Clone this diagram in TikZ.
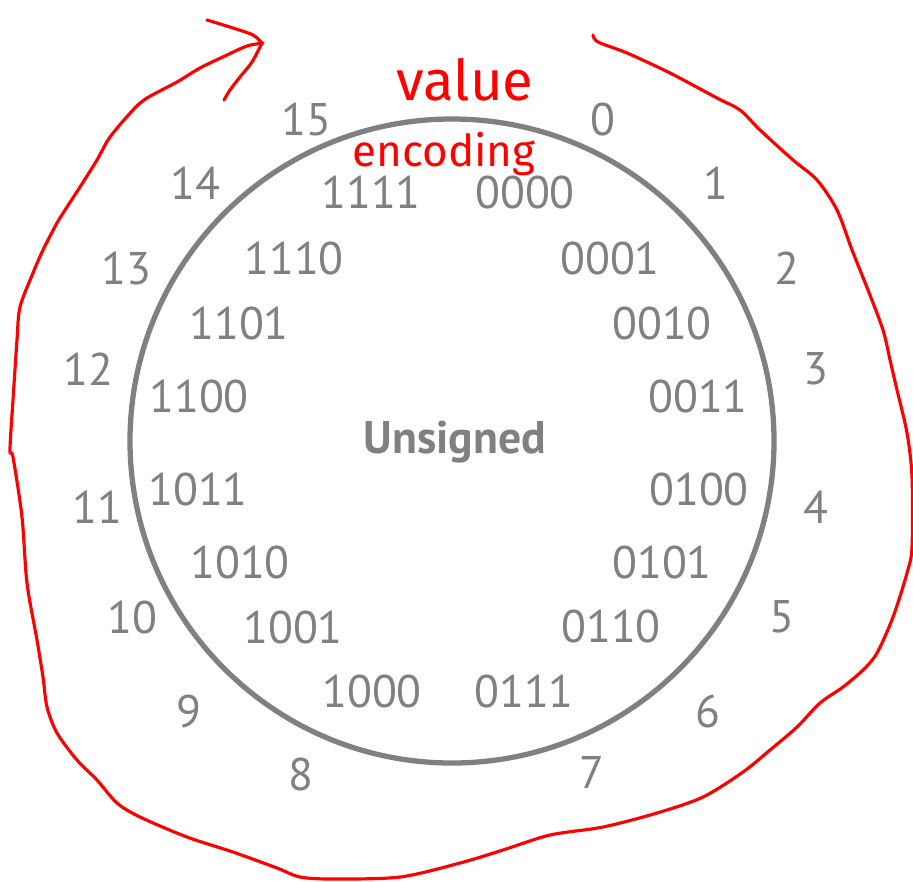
\documentclass[tikz,border=0pt]{standalone}
\usepackage{fontspec}
\setmainfont{PT Sans}
\newfontfamily\handfont{Fira Sans}
\usetikzlibrary{positioning}

\definecolor{ringgray}{RGB}{128,128,128}

\begin{document}
\begin{tikzpicture}[x=0.01cm, y=-0.01cm, line join=round, line cap=round,
    num/.style={inner sep=0pt, text=ringgray, font=\fontsize{13}{15}\selectfont},
    code/.style={num},
    hand/.style={inner sep=0pt, text=red, font=\handfont\fontsize{14}{16}\selectfont}]
    \useasboundingbox (0,0) rectangle (913,881);

    % ring
    \coordinate (O) at (452,441);
    \draw[ringgray, line width=1.5pt] (O) circle (322);
    \node[inner sep=0pt, text=ringgray, font=\fontsize{13}{15}\selectfont\bfseries,
          anchor=base] (title) at (455,453) {Unsigned};

    % values outside the ring
    \foreach \v/\x/\y in {0/603/119, 1/716/183, 2/787/268, 3/816/369,
                          4/816/507, 5/782/617, 6/708/711, 7/592/772,
                          8/301/774, 9/189/711, 10/132/617, 11/97/507,
                          12/88/369, 13/126/268, 14/195/183, 15/306/119}
        \node[num] (v\v) at (\x,\y) {\v};

    % bit patterns inside the ring
    \foreach \b/\x/\y in {0000/525/192, 0001/610/258, 0010/662/323, 0011/698/396,
                          0100/699/489, 0101/662/562, 0110/611/626, 0111/524/691,
                          1000/372/691, 1001/293/627, 1010/240/562, 1011/198/489,
                          1100/199/396, 1101/239/323, 1110/294/258, 1111/371/192}
        \node[code] (c\b) at (\x,\y) {\b};

    % handwritten notes
    \node[hand, font=\handfont\fontsize{16}{18}\selectfont, anchor=base] (value) at (465,100) {value};
    \node[hand, font=\handfont\fontsize{12.5}{15}\selectfont, anchor=base] (enc) at (444,166) {encoding};

    % freehand loop
    \draw[red, line width=0.9pt] plot[smooth, tension=0.5] coordinates {
        (593,35) (598,42) (627,53) (670,73) (717,98) (740,110) (760,130)
        (793,160) (817,180) (837,210) (852,250) (868,290) (883,330) (890,360)
        (897,390) (907,433) (912,477) (912,547) (907,573) (893,617) (877,653)
        (863,670) (843,687) (820,703) (797,727) (770,750) (743,772) (703,797)
        (657,813) (603,827) (550,835) (503,850) (460,863) (400,877) (333,879)
        (300,877) (277,868) (233,852) (187,837) (140,817) (117,803) (97,780)
        (77,760) (57,733) (47,707) (43,677) (37,640) (27,583) (22,517)
        (13,457) (10,450) (13,400) (17,340) (20,307) (33,273) (43,250)
        (57,223) (67,207) (80,187) (97,160) (110,137) (133,110) (147,98)
        (177,82) (200,68) (227,55) (247,46) (263,43)};
    \coordinate (tip) at (262,43);
    \draw[red, line width=0.9pt] plot[smooth, tension=0.5] coordinates {
        (207,20) (233,28) (253,35) (tip)};
    \draw[red, line width=0.9pt] plot[smooth, tension=0.5] coordinates {
        (224,100) (230,90) (240,77) (252,62) (tip)};
\end{tikzpicture}
\end{document}
